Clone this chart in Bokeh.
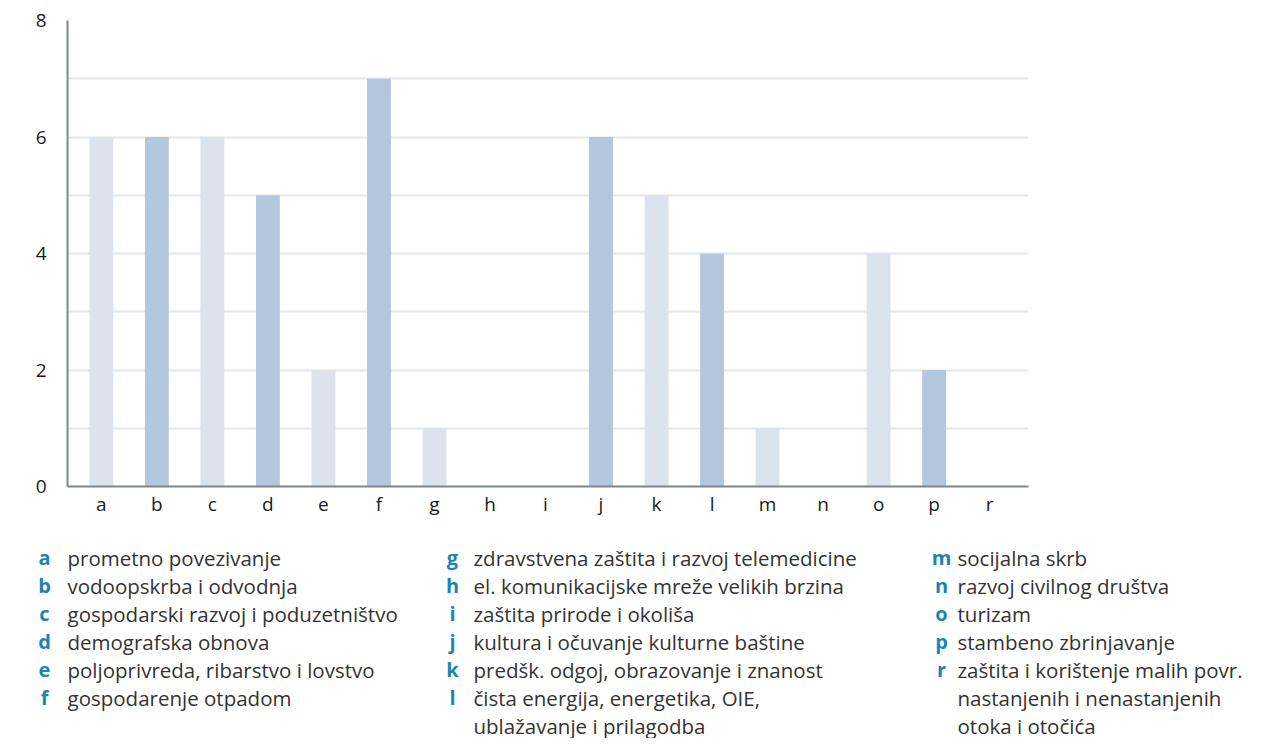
from bokeh.plotting import figure
from bokeh.layouts import column
from bokeh.models import Range1d, FixedTicker, SingleIntervalTicker, ColumnDataSource
from bokeh.core.properties import value
from bokeh.embed import file_html
from bokeh.resources import INLINE

# ---- data ----
categories = ["a", "b", "c", "d", "e", "f", "g", "h", "i", "j", "k", "l", "m", "n", "o", "p", "r"]
counts = [6, 6, 6, 5, 2, 7, 1, 0, 0, 6, 5, 4, 1, 0, 4, 2, 0]
y_ticks = [0, 2, 4, 6, 8]
descriptions = [
    "prometno povezivanje",
    "vodoopskrba i odvodnja",
    "gospodarski razvoj i poduzetništvo",
    "demografska obnova",
    "poljoprivreda, ribarstvo i lovstvo",
    "gospodarenje otpadom",
    "zdravstvena zaštita i razvoj telemedicine",
    "el. komunikacijske mreže velikih brzina",
    "zaštita prirode i okoliša",
    "kultura i očuvanje kulturne baštine",
    "predšk. odgoj, obrazovanje i znanost",
    "čista energija, energetika, OIE,\nublažavanje i prilagodba",
    "socijalna skrb",
    "razvoj civilnog društva",
    "turizam",
    "stambeno zbrinjavanje",
    "zaštita i korištenje malih povr.\nnastanjenih i nenastanjenih\notoka i otočića",
]
legend_columns = [categories[0:6], categories[6:12], categories[12:17]]

LIGHT = "#dce3ee"
DARK = "#b3c7df"
FONT = "Open Sans"
W = 1258
CH = 530

# ---- chart ----
xs = list(range(len(categories)))
colors = [LIGHT if i % 2 == 0 else DARK for i in xs]
src = ColumnDataSource(dict(x=xs, top=counts, color=colors))

p = figure(width=W, height=CH, output_backend="svg", toolbar_location=None,
           x_range=Range1d(-0.61, 16.7), y_range=Range1d(0, 8),
           min_border_left=67, min_border_right=W - 67 - 961,
           min_border_top=20, min_border_bottom=CH - 20 - 466)
p.frame_align = False
p.outline_line_color = None
p.background_fill_color = "white"
p.border_fill_color = "white"

p.vbar(x="x", top="top", width=0.43, fill_color="color", line_color=None, source=src)

p.xgrid.visible = False
p.ygrid.ticker = SingleIntervalTicker(interval=1)
p.ygrid.grid_line_color = "#e3e6ea"
p.ygrid.grid_line_width = 2

p.yaxis.ticker = FixedTicker(ticks=y_ticks)
p.xaxis.ticker = FixedTicker(ticks=xs)
p.xaxis.major_label_overrides = {i: c for i, c in enumerate(categories)}
for ax in (p.xaxis[0], p.yaxis[0]):
    ax.axis_line_color = "#7b868f"
    ax.axis_line_width = 2
    ax.major_tick_line_color = None
    ax.minor_tick_line_color = None
    ax.major_label_text_font = FONT
    ax.major_label_text_font_size = "19px"
    ax.major_label_text_color = "#1a1a1a"
p.yaxis.major_label_standoff = 15
p.xaxis.major_label_standoff = -2

# ---- legend (text block) ----
LH = 208
leg = figure(width=W, height=LH, output_backend="svg", toolbar_location=None,
             x_range=Range1d(0, W), y_range=Range1d(LH, 0),
             min_border=0)
leg.frame_align = False
leg.outline_line_color = None
leg.axis.visible = False
leg.grid.visible = False

col_letter_x = [44, 452, 941]
col_text_x = [67, 473, 957]
row_h = 28
y0 = 27

lx, ly, lt = [], [], []
tx, ty, tt = [], [], []
for ci, letters in enumerate(legend_columns):
    row = 0
    for letter in letters:
        idx = categories.index(letter)
        lines = descriptions[idx].split("\n")
        lx.append(col_letter_x[ci]); ly.append(y0 + row * row_h); lt.append(letter)
        for line in lines:
            tx.append(col_text_x[ci]); ty.append(y0 + row * row_h); tt.append(line)
            row += 1

leg.text(x=lx, y=ly, text=lt, text_align="center", text_baseline="middle",
         text_font=value(FONT), text_font_size="20px", text_font_style="bold",
         text_color="#1b84b5")
leg.text(x=tx, y=ty, text=tt, text_align="left", text_baseline="middle",
         text_font=value(FONT), text_font_size="20.5px", text_color="#333333")

layout = column(p, leg, spacing=0)
open("out.html", "w").write(file_html(layout, INLINE))
